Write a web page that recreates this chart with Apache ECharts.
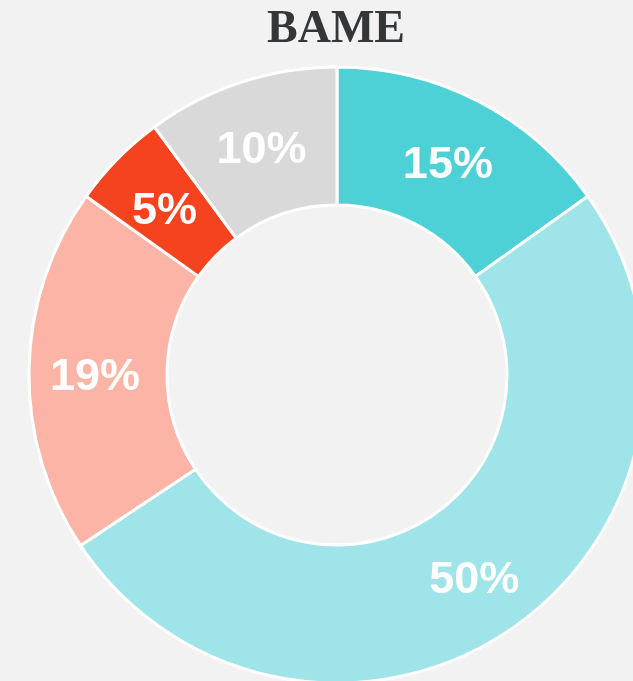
<!DOCTYPE html>
<html>
<head>
<meta charset="utf-8">
<script src="https://cdn.jsdelivr.net/npm/echarts@6/dist/echarts.min.js"></script>
<style>
  html, body { margin: 0; padding: 0; background: #f2f2f2; }
  #main { width: 633px; height: 681px; }
</style>
</head>
<body>
<div id="main"></div>
<script>
// slices, clockwise from 12 o'clock
var categories = ['A', 'B', 'C', 'D', 'E'];
var values = [15, 50, 19, 5, 10];
var colors = ['#4dd0d6', '#9ee4e8', '#fbb4a6', '#f5421f', '#d9d9d9'];

var chart = echarts.init(document.getElementById('main'));

var option = {
  backgroundColor: '#f2f2f2',
  title: {
    text: 'BAME',
    left: 262,
    top: 2,
    textStyle: {
      fontFamily: 'Liberation Serif',
      fontWeight: 'bold',
      fontSize: 46,
      color: '#33373a'
    }
  },
  series: [{
    type: 'pie',
    center: [337, 375],
    radius: [170, 308],
    startAngle: 90,
    clockwise: true,
    animation: false,
    label: {
      show: true,
      position: 'inside',
      formatter: function (p) { return '{v|' + p.value + '%}'; },
      rich: {
        v: {
          fontFamily: 'Liberation Sans',
          fontWeight: 'bold',
          fontSize: 45,
          color: '#ffffff',
          padding: [12, 0, 0, 0]
        }
      }
    },
    labelLine: { show: false },
    itemStyle: {
      borderColor: '#ffffff',
      borderWidth: 3
    },
    emphasis: { disabled: true },
    data: categories.map(function (c, i) {
      return { name: c, value: values[i], itemStyle: { color: colors[i] } };
    })
  }]
};

chart.setOption(option);
</script>
</body>
</html>
